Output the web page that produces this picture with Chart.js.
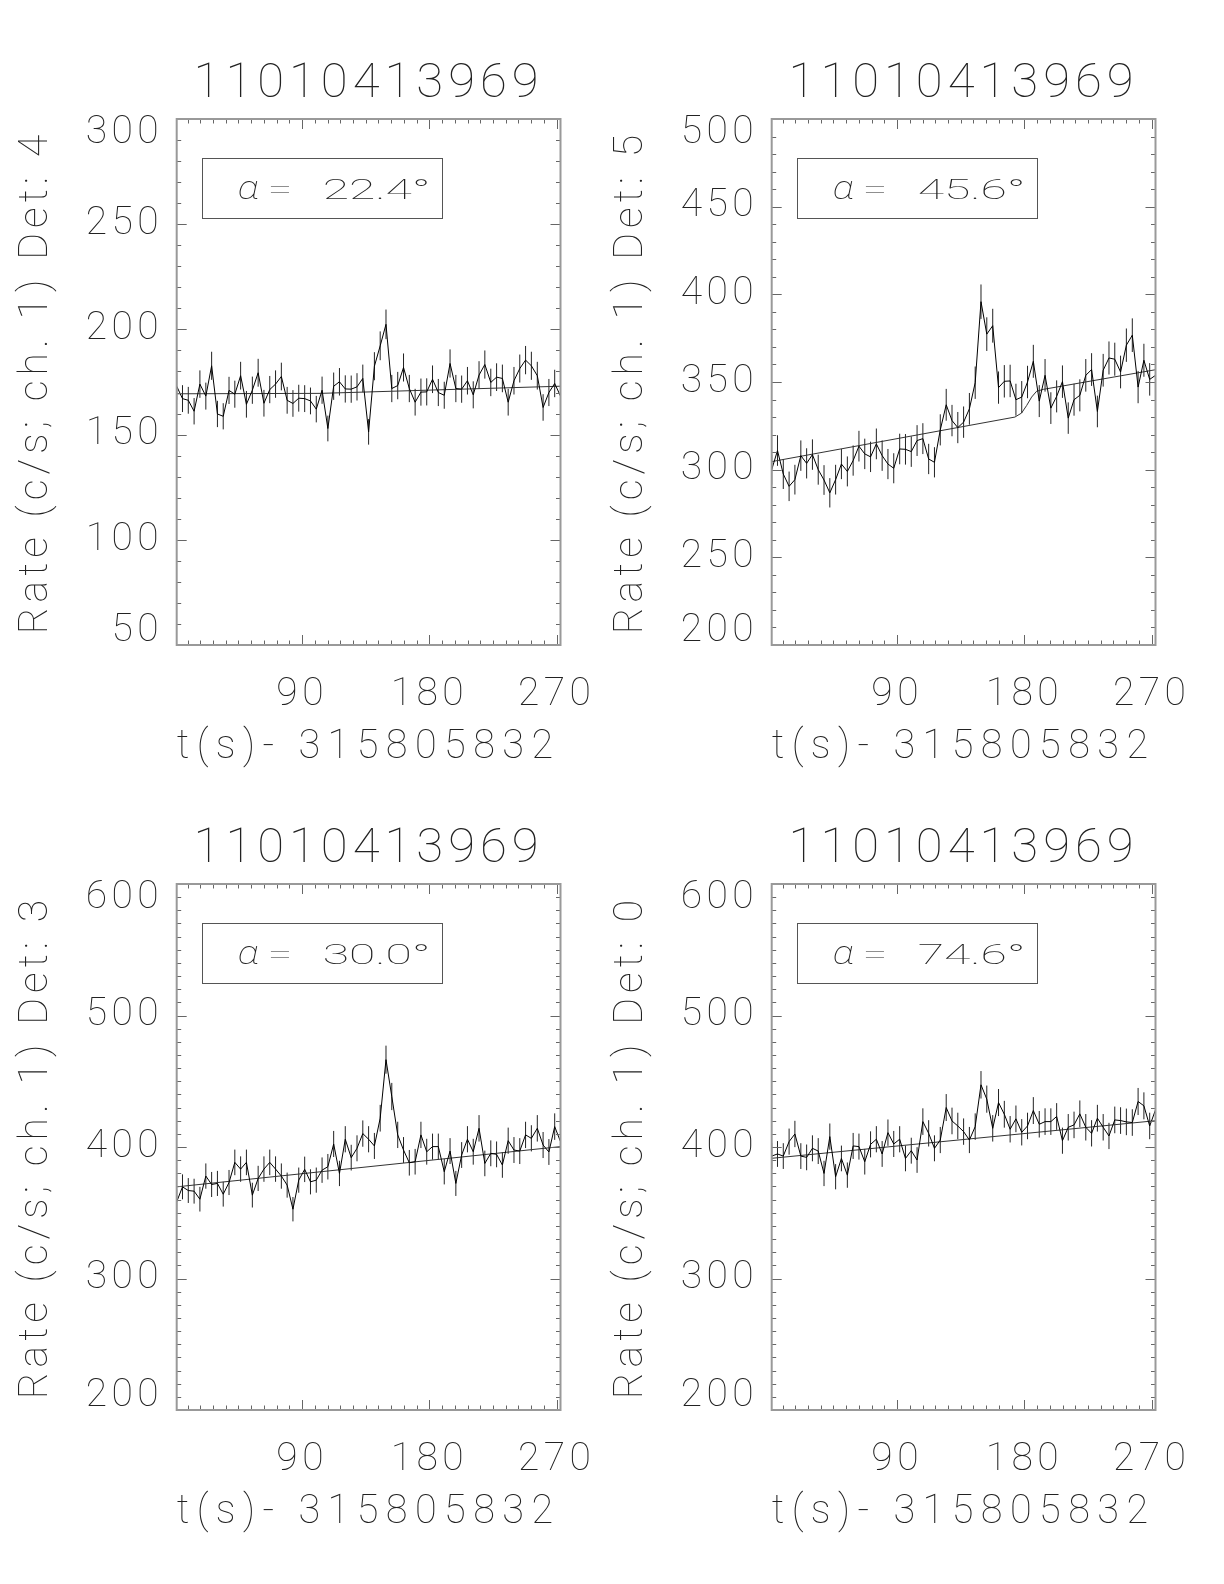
<!DOCTYPE html>
<html>
<head>
<meta charset="utf-8">
<script src="https://cdn.jsdelivr.net/npm/chart.js@4.4.1/dist/chart.umd.min.js"></script>
<style>
html,body{margin:0;padding:0;background:#fff;}
body{width:1224px;height:1584px;position:relative;overflow:hidden;}
canvas{position:absolute;}
</style>
</head>
<body>
<canvas id="p0" width="620" height="790" style="left:0px;top:0px"></canvas>
<canvas id="p1" width="620" height="790" style="left:595px;top:0px"></canvas>
<canvas id="p2" width="620" height="790" style="left:0px;top:765px"></canvas>
<canvas id="p3" width="620" height="790" style="left:595px;top:765px"></canvas>
<script>
// ---------------- data ----------------
const obsId = '11010413969';
const xAxisLabel = 't(s)- 315805832';
const yAxisPrefix = 'Rate (c/s; ch. 1) Det: ';
const detectors = ['4', '5', '3', '0'];
const alphaLabels = ['22.4', '45.6', '30.0', '74.6'];
const binWidth = 4.096;

const times = [1.3, 5.4, 9.5, 13.6, 17.7, 21.9, 26.0, 30.1, 34.2, 38.3,
  42.4, 46.5, 50.6, 54.8, 58.9, 63.0, 67.1, 71.2, 75.3, 79.4,
  83.5, 87.6, 91.8, 95.9, 100.0, 104.1, 108.2, 112.3, 116.4, 120.5,
  124.7, 128.8, 132.9, 137.0, 141.1, 145.2, 149.3, 153.4, 157.6, 161.7,
  165.8, 169.9, 174.0, 178.1, 182.2, 186.3, 190.5, 194.6, 198.7, 202.8,
  206.9, 211.0, 215.1, 219.2, 223.4, 227.5, 231.6, 235.7, 239.8, 243.9,
  248.0, 252.1, 256.3, 260.4, 264.5, 268.6, 272.7];

const rateDet4 = [173.0, 167.1, 166.3, 161.1, 174.0, 168.3, 182.7, 159.8, 158.7, 171.0,
  169.2, 178.0, 164.4, 171.1, 179.4, 164.9, 171.4, 174.0, 177.6, 166.3,
  164.8, 167.3, 167.1, 166.0, 162.1, 171.1, 152.9, 173.0, 175.1, 171.7,
  171.6, 172.7, 176.7, 151.3, 182.5, 192.2, 202.4, 171.9, 173.3, 181.9,
  171.9, 165.4, 170.2, 170.3, 176.3, 170.0, 168.7, 183.8, 171.9, 171.6,
  175.6, 168.9, 178.3, 183.3, 174.8, 177.3, 176.7, 165.4, 175.6, 181.4,
  185.4, 182.7, 178.0, 162.9, 170.0, 174.3, 168.3];

const rateDet5 = [300.0, 310.9, 297.5, 290.5, 294.3, 308.0, 303.6, 308.6, 300.0, 294.1,
  286.8, 294.3, 303.2, 299.0, 305.2, 313.4, 309.0, 307.3, 314.7, 308.0,
  303.2, 300.8, 311.8, 311.6, 310.3, 316.6, 317.7, 306.1, 304.2, 322.7,
  337.0, 328.0, 324.0, 327.1, 334.7, 349.6, 395.8, 377.3, 382.1, 346.8,
  350.4, 350.6, 339.9, 341.4, 350.0, 361.8, 339.1, 353.8, 335.1, 341.8,
  350.2, 329.4, 339.9, 342.4, 353.8, 357.1, 333.2, 356.7, 363.7, 363.0,
  355.7, 371.0, 376.7, 347.1, 362.4, 351.5, 353.8];

const rateDet3 = [358.3, 369.7, 366.9, 366.4, 360.3, 377.9, 371.5, 372.3, 364.1, 373.0,
  388.3, 383.2, 388.3, 363.4, 376.1, 383.2, 388.3, 383.2, 377.9, 371.0,
  352.7, 374.8, 383.0, 373.5, 374.8, 382.4, 385.0, 402.3, 379.9, 405.9,
  391.9, 399.0, 410.2, 405.9, 400.8, 421.9, 466.4, 438.4, 409.2, 397.7,
  388.0, 388.8, 409.2, 396.4, 400.3, 400.3, 381.2, 396.9, 372.3, 393.9,
  405.9, 396.4, 414.2, 387.5, 395.2, 394.4, 386.3, 404.8, 397.7, 396.9,
  409.2, 406.6, 414.2, 401.5, 396.2, 415.5, 404.1];

const rateDet0 = [393.1, 394.7, 393.1, 404.1, 409.9, 393.1, 392.1, 399.0, 396.9, 379.9,
  407.9, 377.4, 391.3, 378.6, 400.8, 400.3, 388.8, 402.0, 405.9, 394.7,
  410.9, 402.3, 405.9, 391.3, 397.2, 390.1, 419.3, 410.4, 399.0, 405.3,
  430.0, 419.8, 416.0, 411.7, 405.3, 415.5, 447.3, 436.4, 414.2, 433.8,
  424.9, 413.5, 421.4, 411.2, 416.0, 427.7, 417.3, 419.3, 419.3, 423.2,
  404.8, 415.0, 416.8, 425.2, 415.0, 410.4, 421.9, 415.0, 408.4, 420.6,
  420.1, 419.1, 418.6, 434.6, 431.3, 416.0, 428.2];

// background model curves
const modelTimesDet4 = [1.3, 103.0, 272.7];
const modelDet4 = [169.4, 169.6, 173.0];
const modelTimesDet5 = [1.3, 173.3, 178.0, 181.6, 185.1, 188.6, 193.4, 272.7];
const modelDet5 = [304.6, 330.0, 332.3, 336.6, 341.4, 344.7, 345.8, 357.0];
const modelTimesDet3 = [1.3, 272.7];
const modelDet3 = [369.7, 400.3];
const modelTimesDet0 = [1.3, 272.7];
const modelDet0 = [391.4, 420.0];

// axes
const xRange = [1.3, 272.7];
const xTickValues = [90, 180, 270];
const xMinorStep = 9;
const yTicksDet4 = [50, 100, 150, 200, 250, 300];
const yTicksDet5 = [200, 250, 300, 350, 400, 450, 500];
const yTicksDet3 = [200, 300, 400, 500, 600];
const yTicksDet0 = [200, 300, 400, 500, 600];
const yMinorStep = 10;

// ---------------- drawing ----------------
const FONT = "Roboto, 'DejaVu Sans', sans-serif";
const FW = '100';
const TXT = '#222';
const CANVAS_W = 620, CANVAS_H = 790;
const AREA = {left: 176.7, right: 560.5, top: 119, bottom: 645};
// letter spacing by font size (Hershey-like wide glyph pitch)
const SPACING = {49: '5px', 41: '5px', 40: '7.5px', 39: '4.5px'};

const framePlugin = {
  id: 'frame',
  beforeInit(chart) {
    const ctx = chart.ctx;
    const orig = ctx.fillText.bind(ctx);
    ctx.fillText = function (t, x, y, mw) {
      const m = /([\d.]+)px/.exec(ctx.font);
      const sz = m ? Math.round(parseFloat(m[1])) : 0;
      ctx.letterSpacing = SPACING[sz] || '0px';
      if (mw === undefined) orig(t, x, y); else orig(t, x, y, mw);
    };
  },
  beforeDatasetsDraw(chart) {
    const ctx = chart.ctx, xs = chart.scales.x, ys = chart.scales.y;
    const ds = chart.data.datasets[0];
    ctx.save();
    ctx.strokeStyle = '#222';
    ctx.lineWidth = 1;
    ctx.beginPath();
    ds.data.forEach(p => {
      const e = Math.sqrt(p.y / binWidth);
      const px = xs.getPixelForValue(p.x);
      ctx.moveTo(px, ys.getPixelForValue(p.y - e));
      ctx.lineTo(px, ys.getPixelForValue(p.y + e));
    });
    ctx.stroke();
    ctx.restore();
  },
  afterDraw(chart, args, opts) {
    const ctx = chart.ctx, xs = chart.scales.x, ys = chart.scales.y;
    const a = chart.chartArea;
    ctx.save();
    // ticks
    ctx.strokeStyle = '#666';
    ctx.lineWidth = 1;
    ctx.beginPath();
    for (let v = Math.ceil(xs.min / xMinorStep) * xMinorStep; v <= xs.max + 1e-6; v += xMinorStep) {
      const major = xTickValues.includes(v);
      const len = major ? 10 : 4.5;
      const px = Math.round(xs.getPixelForValue(v)) + 0.5;
      ctx.moveTo(px, a.bottom); ctx.lineTo(px, a.bottom - len);
      ctx.moveTo(px, a.top); ctx.lineTo(px, a.top + len);
    }
    const yt = opts.yTicks;
    for (let v = Math.ceil(ys.min / yMinorStep) * yMinorStep; v <= ys.max + 1e-6; v += yMinorStep) {
      const major = yt.includes(v);
      const len = major ? 10 : 4.5;
      const py = Math.round(ys.getPixelForValue(v)) + 0.5;
      ctx.moveTo(a.left, py); ctx.lineTo(a.left + len, py);
      ctx.moveTo(a.right, py); ctx.lineTo(a.right - len, py);
    }
    ctx.stroke();
    // frame
    ctx.strokeStyle = '#999';
    ctx.lineWidth = 2;
    ctx.strokeRect(a.left, a.top, a.right - a.left, a.bottom - a.top);
    // alpha box
    const bx = a.left + 25, by = a.top + 39.3;
    ctx.strokeStyle = '#555';
    ctx.lineWidth = 1;
    ctx.strokeRect(Math.round(bx) + 0.5, Math.round(by) + 0.5, 240, 60);
    ctx.fillStyle = TXT;
    ctx.textBaseline = 'alphabetic';
    ctx.textAlign = 'left';
    const base = a.top + 80;
    const drawScaled = (txt, x, font, sx) => {
      ctx.save();
      ctx.translate(x, base);
      ctx.scale(sx, 1);
      ctx.font = font;
      ctx.fillText(txt, 0, 0);
      ctx.restore();
    };
    drawScaled('\u03B1', a.left + 61, "italic " + FW + " 33px " + FONT, 1.2);
    drawScaled('=', a.left + 91, FW + " 27px " + FONT, 1.64);
    drawScaled(opts.alpha + '\u00B0', a.left + 146, FW + " 27px " + FONT, 1.78);
    ctx.restore();
  }
};

function makePanel(id, rates, mT, mV, yTicks, det, alpha) {
  const yMin = yTicks[0], yMax = yTicks[yTicks.length - 1];
  new Chart(document.getElementById(id), {
    type: 'scatter',
    data: {
      datasets: [
        {
          label: 'Det ' + det,
          data: times.map((t, i) => ({x: t, y: rates[i]})),
          showLine: true, borderColor: '#000', borderWidth: 1,
          pointRadius: 0, pointHoverRadius: 0, tension: 0, order: 1
        },
        {
          label: 'model',
          data: mT.map((t, i) => ({x: t, y: mV[i]})),
          showLine: true, borderColor: '#333', borderWidth: 1,
          pointRadius: 0, pointHoverRadius: 0, tension: 0, order: 2
        }
      ]
    },
    options: {
      responsive: false,
      animation: false,
      devicePixelRatio: 1,
      events: [],
      layout: {padding: {left: 0, top: 0, right: CANVAS_W - AREA.right, bottom: 0}},
      plugins: {
        legend: {display: false},
        tooltip: {enabled: false},
        title: {
          display: true, text: obsId, color: TXT, fullSize: false,
          font: {family: FONT, size: 49, weight: FW, lineHeight: 1},
          padding: {top: 60, bottom: AREA.top - 60 - 49}
        },
        frame: {alpha: alpha, yTicks: yTicks}
      },
      scales: {
        x: {
          type: 'linear', position: 'bottom',
          min: xRange[0], max: xRange[1],
          grid: {display: false, drawTicks: false},
          border: {display: false},
          afterBuildTicks: s => { s.ticks = xTickValues.map(v => ({value: v})); },
          afterFit: s => { s.height = CANVAS_H - AREA.bottom; s.paddingLeft = 0; s.paddingRight = 0; },
          ticks: {
            color: TXT, autoSkip: false, maxRotation: 0, padding: 31,
            font: {family: FONT, size: 39, weight: FW, lineHeight: 1},
            callback: v => String(v)
          },
          title: {
            display: true, text: xAxisLabel, color: TXT,
            font: {family: FONT, size: 40, weight: FW, lineHeight: 1},
            padding: {top: 0, bottom: 22}
          }
        },
        y: {
          type: 'linear', position: 'left',
          min: yMin, max: yMax,
          grid: {display: false, drawTicks: false},
          border: {display: false},
          afterBuildTicks: s => { s.ticks = yTicks.map(v => ({value: v})); },
          afterFit: s => { s.width = AREA.left; s.paddingTop = 0; s.paddingBottom = 0; },
          ticks: {
            color: TXT, autoSkip: false, padding: 13.5,
            font: {family: FONT, size: 39, weight: FW, lineHeight: '28px'},
            callback: v => (v === yMax ? ['', String(v)] : (v === yMin ? [String(v), ''] : String(v)))
          },
          title: {
            display: true, text: yAxisPrefix + det, color: TXT,
            font: {family: FONT, size: 41, weight: FW, lineHeight: 1},
            padding: {top: 16.5, bottom: 0}
          }
        }
      }
    },
    plugins: [framePlugin]
  });
}

makePanel('p0', rateDet4, modelTimesDet4, modelDet4, yTicksDet4, detectors[0], alphaLabels[0]);
makePanel('p1', rateDet5, modelTimesDet5, modelDet5, yTicksDet5, detectors[1], alphaLabels[1]);
makePanel('p2', rateDet3, modelTimesDet3, modelDet3, yTicksDet3, detectors[2], alphaLabels[2]);
makePanel('p3', rateDet0, modelTimesDet0, modelDet0, yTicksDet0, detectors[3], alphaLabels[3]);
</script>
</body>
</html>
